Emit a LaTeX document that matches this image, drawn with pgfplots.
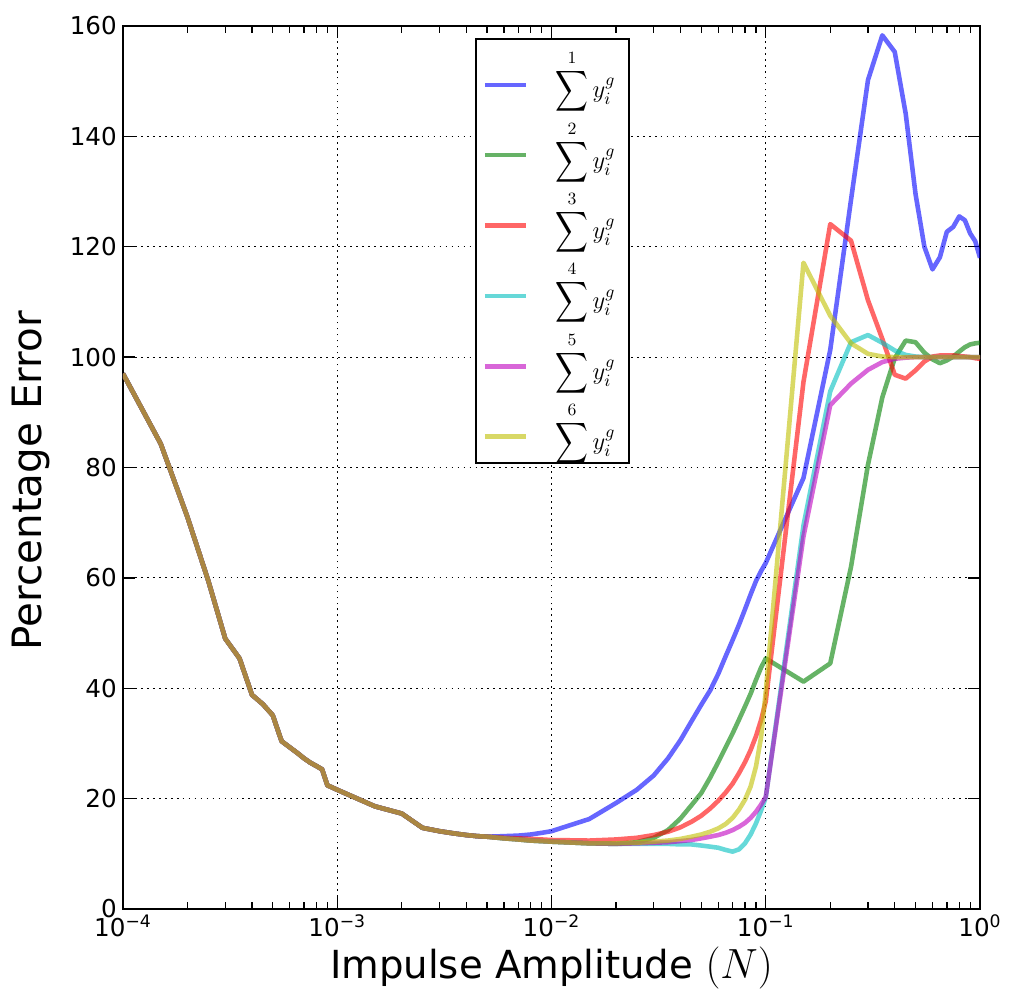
\RequirePackage{fix-cm}
\documentclass[border=0pt]{standalone}
\usepackage{amsmath}
\usepackage{graphicx}
\usepackage{fontspec}
\setmainfont{DejaVu Sans}
\usepackage{pgfplots}
\pgfplotsset{compat=1.18}

\definecolor{cB}{rgb}{0,0,1}
\definecolor{cG}{rgb}{0,0.5,0}
\definecolor{cR}{rgb}{1,0,0}
\definecolor{cC}{rgb}{0,0.75,0.75}
\definecolor{cM}{rgb}{0.75,0,0.75}
\definecolor{cY}{rgb}{0.75,0.75,0}

% tall narrow summation sign, as in the legend of the reference
\newcommand{\bigsum}[1]{$\mathop{\vcenter{\hbox{\scalebox{0.9}[1.12]{$\displaystyle\sum$}}}}\limits^{#1} y_i^g$}

\begin{document}
\begin{tikzpicture}
\path[use as bounding box] (-24.6mm,-18mm) rectangle (177.2mm,181.8mm);
\begin{axis}[
  scale only axis,
  width=171.4mm, height=176.6mm,
  xmode=log, xmin=1e-4, xmax=1,
  ymin=0, ymax=160, ytick distance=20,
  xtick={1e-4,1e-3,1e-2,1e-1,1},
  xticklabels={10\textsuperscript{−4},10\textsuperscript{−3},10\textsuperscript{−2},10\textsuperscript{−1},10\textsuperscript{0}},
  /pgf/number format/assume math mode=true,
  tick label style={font=\fontsize{14}{16}\selectfont},
  xlabel={Impulse Amplitude {\fontsize{24}{26}\selectfont$(N)$}},
  ylabel={Percentage Error},
  xlabel style={font=\fontsize{22}{26}\selectfont, at={(axis description cs:0.5,-0.067)}, anchor=center},
  ylabel style={font=\fontsize{23}{27}\selectfont, at={(axis description cs:-0.107,0.485)}, anchor=center},
  axis line style={line width=1pt},
  tick align=inside, tick style={black, line width=0.8pt},
  major tick length=7pt, minor tick length=4pt,
  grid=major,
  major grid style={black, line width=0.6pt, dash pattern=on 1pt off 2.4pt},
  every axis plot/.append style={line width=2.6pt, opacity=0.6, line join=round},
  legend cell align=left,
  legend image code/.code={\draw[#1] (0.7mm,-1.9mm) -- (8.9mm,-1.9mm); \path (12.9mm,1.9mm);},
  legend style={at={(0.411,0.986)}, anchor=north west, draw=black, line width=1pt,
    fill=white, font=\fontsize{14}{16}\selectfont, row sep=7.5pt,
    inner xsep=1.3mm, inner ysep=1.5mm, nodes={inner xsep=1.5mm}},
]
\addplot[cB] coordinates {
(1e-4,97.0) (1.5e-4,84.3) (2e-4,71.0) (2.5e-4,59.5) (3e-4,49.0) (3.5e-4,45.4) (4e-4,38.8) (4.5e-4,37.1) (5e-4,35.1) (5.5e-4,30.4) (6e-4,29.3) (6.5e-4,28.3) (7e-4,27.3) (7.5e-4,26.5) (8e-4,25.9) (8.5e-4,25.3) (9e-4,22.4) (9.5e-4,22.0) (1e-3,21.6) (1.5e-3,18.6) (2e-3,17.3) (2.5e-3,14.7) (3e-3,14.1) (3.5e-3,13.7) (4e-3,13.4) (4.5e-3,13.2) (5e-3,13.1)
(6e-3,13.2) (7e-3,13.3) (8e-3,13.5) (9e-3,13.8) (1e-2,14.1) (1.5e-2,16.3) (2e-2,19.2) (2.5e-2,21.6) (3e-2,24.2) (3.5e-2,27.3) (4e-2,30.6) (4.5e-2,34.0) (5e-2,37.0) (5.5e-2,39.6) (6e-2,42.6) (6.5e-2,45.8) (7e-2,48.7) (7.5e-2,51.5) (8e-2,54.3) (8.5e-2,57.0) (9e-2,59.4) (9.5e-2,61.2) (0.1,62.7)
(0.15,78.1) (0.2,101.3) (0.25,128.5) (0.3,150.2) (0.35,158.3) (0.4,155.3) (0.45,144.1) (0.5,129.6) (0.55,120.0) (0.6,115.9) (0.65,118.1) (0.7,122.7) (0.75,123.6) (0.8,125.5) (0.85,124.8) (0.9,122.4) (0.95,121.0) (1.0,118.0)
};
\addlegendentry{\bigsum{1}}
\addplot[cG] coordinates {
(1e-4,97.0) (1.5e-4,84.3) (2e-4,71.0) (2.5e-4,59.5) (3e-4,49.0) (3.5e-4,45.4) (4e-4,38.8) (4.5e-4,37.1) (5e-4,35.1) (5.5e-4,30.4) (6e-4,29.3) (6.5e-4,28.3) (7e-4,27.3) (7.5e-4,26.5) (8e-4,25.9) (8.5e-4,25.3) (9e-4,22.4) (9.5e-4,22.0) (1e-3,21.6) (1.5e-3,18.6) (2e-3,17.3) (2.5e-3,14.7) (3e-3,14.1) (3.5e-3,13.7) (4e-3,13.4) (4.5e-3,13.2) (5e-3,13.1)
(6e-3,12.8) (7e-3,12.6) (8e-3,12.4) (9e-3,12.3) (1e-2,12.2) (1.5e-2,11.9) (2e-2,11.8) (2.5e-2,12.1) (3e-2,12.9) (3.5e-2,14.3) (4e-2,16.4) (4.5e-2,18.8) (5e-2,21.0) (5.5e-2,23.8) (6e-2,26.6) (6.5e-2,29.3) (7e-2,31.8) (7.5e-2,34.3) (8e-2,36.7) (8.5e-2,39.0) (9e-2,41.5) (9.5e-2,43.7) (0.1,45.4)
(0.15,41.2) (0.2,44.5) (0.25,62.0) (0.3,80.5) (0.35,92.7) (0.4,99.8) (0.45,103.0) (0.5,102.7) (0.55,100.8) (0.6,99.6) (0.65,98.9) (0.7,99.4) (0.75,100.1) (0.8,101.0) (0.85,101.8) (0.9,102.3) (0.95,102.5) (1.0,102.6)
};
\addlegendentry{\bigsum{2}}
\addplot[cR] coordinates {
(1e-4,97.0) (1.5e-4,84.3) (2e-4,71.0) (2.5e-4,59.5) (3e-4,49.0) (3.5e-4,45.4) (4e-4,38.8) (4.5e-4,37.1) (5e-4,35.1) (5.5e-4,30.4) (6e-4,29.3) (6.5e-4,28.3) (7e-4,27.3) (7.5e-4,26.5) (8e-4,25.9) (8.5e-4,25.3) (9e-4,22.4) (9.5e-4,22.0) (1e-3,21.6) (1.5e-3,18.6) (2e-3,17.3) (2.5e-3,14.7) (3e-3,14.1) (3.5e-3,13.7) (4e-3,13.4) (4.5e-3,13.2) (5e-3,13.1)
(6e-3,12.9) (7e-3,12.8) (8e-3,12.7) (9e-3,12.6) (1e-2,12.5) (1.5e-2,12.4) (2e-2,12.6) (2.5e-2,12.9) (3e-2,13.4) (3.5e-2,14.0) (4e-2,14.8) (4.5e-2,15.8) (5e-2,16.9) (5.5e-2,18.2) (6e-2,19.6) (6.5e-2,21.1) (7e-2,22.7) (7.5e-2,24.6) (8e-2,26.6) (8.5e-2,28.8) (9e-2,31.3) (9.5e-2,34.2) (0.1,37.6)
(0.15,95.5) (0.2,124.1) (0.25,121.1) (0.3,110.3) (0.35,103.3) (0.4,96.8) (0.45,96.1) (0.5,97.6) (0.55,99.2) (0.6,100.1) (0.65,100.3) (0.7,100.3) (0.75,100.3) (0.8,100.2) (0.85,100.1) (0.9,100.0) (0.95,99.8) (1.0,99.7)
};
\addlegendentry{\bigsum{3}}
\addplot[cC] coordinates {
(1e-4,97.0) (1.5e-4,84.3) (2e-4,71.0) (2.5e-4,59.5) (3e-4,49.0) (3.5e-4,45.4) (4e-4,38.8) (4.5e-4,37.1) (5e-4,35.1) (5.5e-4,30.4) (6e-4,29.3) (6.5e-4,28.3) (7e-4,27.3) (7.5e-4,26.5) (8e-4,25.9) (8.5e-4,25.3) (9e-4,22.4) (9.5e-4,22.0) (1e-3,21.6) (1.5e-3,18.6) (2e-3,17.3) (2.5e-3,14.7) (3e-3,14.1) (3.5e-3,13.7) (4e-3,13.4) (4.5e-3,13.2) (5e-3,13.1)
(6e-3,12.8) (7e-3,12.6) (8e-3,12.4) (9e-3,12.3) (1e-2,12.2) (1.5e-2,11.9) (2e-2,11.8) (2.5e-2,11.8) (3e-2,11.8) (3.5e-2,11.8) (4e-2,11.7) (4.5e-2,11.7) (5e-2,11.5) (5.5e-2,11.3) (6e-2,11.1) (6.5e-2,10.7) (7e-2,10.4) (7.5e-2,10.8) (8e-2,11.9) (8.5e-2,13.5) (9e-2,15.5) (9.5e-2,17.8) (0.1,20.2)
(0.15,69.5) (0.2,93.8) (0.25,102.7) (0.3,104.0) (0.35,102.6) (0.4,101.2) (0.45,100.4) (0.5,100.1) (0.55,100.0) (0.6,100.0) (0.65,100.0) (0.7,100.0) (0.75,100.0) (0.8,100.0) (0.85,100.0) (0.9,100.0) (0.95,100.0) (1.0,100.0)
};
\addlegendentry{\bigsum{4}}
\addplot[cM] coordinates {
(1e-4,97.0) (1.5e-4,84.3) (2e-4,71.0) (2.5e-4,59.5) (3e-4,49.0) (3.5e-4,45.4) (4e-4,38.8) (4.5e-4,37.1) (5e-4,35.1) (5.5e-4,30.4) (6e-4,29.3) (6.5e-4,28.3) (7e-4,27.3) (7.5e-4,26.5) (8e-4,25.9) (8.5e-4,25.3) (9e-4,22.4) (9.5e-4,22.0) (1e-3,21.6) (1.5e-3,18.6) (2e-3,17.3) (2.5e-3,14.7) (3e-3,14.1) (3.5e-3,13.7) (4e-3,13.4) (4.5e-3,13.2) (5e-3,13.1)
(6e-3,12.8) (7e-3,12.6) (8e-3,12.4) (9e-3,12.3) (1e-2,12.2) (1.5e-2,11.9) (2e-2,11.8) (2.5e-2,11.9) (3e-2,12.0) (3.5e-2,12.1) (4e-2,12.3) (4.5e-2,12.5) (5e-2,12.8) (5.5e-2,13.1) (6e-2,13.4) (6.5e-2,13.8) (7e-2,14.3) (7.5e-2,14.9) (8e-2,15.6) (8.5e-2,16.5) (9e-2,17.6) (9.5e-2,18.9) (0.1,20.3)
(0.15,67.5) (0.2,91.3) (0.25,95.2) (0.3,97.7) (0.35,99.1) (0.4,99.7) (0.45,99.9) (0.5,100.0) (0.55,100.0) (0.6,100.0) (0.65,100.0) (0.7,100.0) (0.75,100.0) (0.8,100.0) (0.85,100.0) (0.9,100.0) (0.95,100.0) (1.0,100.0)
};
\addlegendentry{\bigsum{5}}
\addplot[cY] coordinates {
(1e-4,97.0) (1.5e-4,84.3) (2e-4,71.0) (2.5e-4,59.5) (3e-4,49.0) (3.5e-4,45.4) (4e-4,38.8) (4.5e-4,37.1) (5e-4,35.1) (5.5e-4,30.4) (6e-4,29.3) (6.5e-4,28.3) (7e-4,27.3) (7.5e-4,26.5) (8e-4,25.9) (8.5e-4,25.3) (9e-4,22.4) (9.5e-4,22.0) (1e-3,21.6) (1.5e-3,18.6) (2e-3,17.3) (2.5e-3,14.7) (3e-3,14.1) (3.5e-3,13.7) (4e-3,13.4) (4.5e-3,13.2) (5e-3,13.1)
(6e-3,12.8) (7e-3,12.6) (8e-3,12.4) (9e-3,12.3) (1e-2,12.2) (1.5e-2,11.9) (2e-2,11.9) (2.5e-2,12.0) (3e-2,12.2) (3.5e-2,12.4) (4e-2,12.7) (4.5e-2,13.1) (5e-2,13.5) (5.5e-2,14.0) (6e-2,14.6) (6.5e-2,15.4) (7e-2,16.5) (7.5e-2,18.0) (8e-2,19.8) (8.5e-2,22.2) (9e-2,25.8) (9.5e-2,31.0) (0.1,39.4)
(0.15,117.1) (0.2,107.5) (0.25,102.5) (0.3,100.6) (0.35,100.1) (0.4,100.0) (0.45,100.0) (0.5,100.0) (0.55,100.0) (0.6,100.0) (0.65,100.0) (0.7,100.0) (0.75,100.0) (0.8,100.0) (0.85,100.0) (0.9,100.0) (0.95,100.0) (1.0,100.0)
};
\addlegendentry{\bigsum{6}}
\end{axis}
\end{tikzpicture}
\end{document}
